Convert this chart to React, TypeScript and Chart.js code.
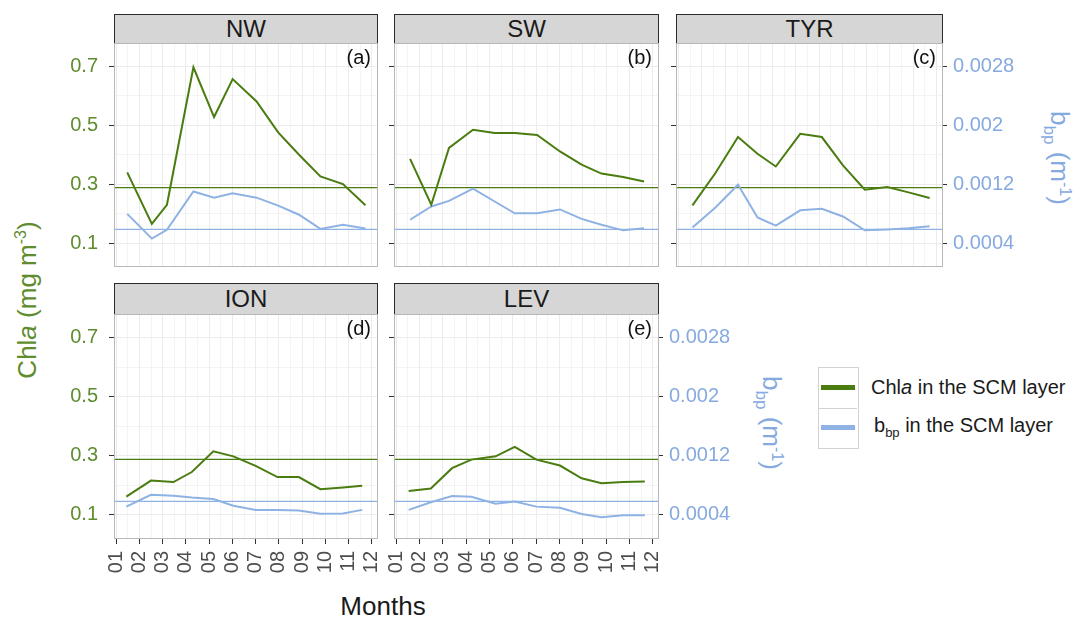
import React, { useEffect, useRef } from 'react';
import { Chart, registerables } from 'chart.js';

Chart.register(...registerables);

// ---------- data ----------
const MONTH_TICKS = [1, 2, 3, 4, 5, 6, 7, 8, 9, 10, 11, 12];
const MONTH_LABELS = ['01', '02', '03', '04', '05', '06', '07', '08', '09', '10', '11', '12'];
const MONTH_MINOR = [1.5, 2.5, 3.5, 4.5, 5.5, 6.5, 7.5, 8.5, 9.5, 10.5, 11.5];
const CHL_TICKS = [0.1, 0.3, 0.5, 0.7];
const CHL_LABELS = ['0.1', '0.3', '0.5', '0.7'];
const CHL_MINOR = [0.2, 0.4, 0.6];
const BBP_TICKS = [0.0004, 0.0012, 0.002, 0.0028];
const BBP_LABELS = ['0.0004', '0.0012', '0.002', '0.0028'];

const CHL_MEAN = 0.288;
const BBP_MEAN = 0.000584;

const NW_MONTHS = [1.47, 2.53, 3.18, 4.32, 5.21, 6.01, 7.04, 7.97, 8.87, 9.79, 10.76, 11.73];
const NW_CHL = [0.340, 0.165, 0.230, 0.697, 0.528, 0.657, 0.581, 0.476, 0.400, 0.326, 0.300, 0.228];
const NW_BBP = [0.000796, 0.00046, 0.00058, 0.0011, 0.001016, 0.001076, 0.001016, 0.000908, 0.000784, 0.000592, 0.000648, 0.000596];

const SW_MONTHS = [1.59, 2.50, 3.26, 4.29, 5.22, 6.08, 7.04, 8.02, 8.95, 9.80, 10.73, 11.63];
const SW_CHL = [0.386, 0.230, 0.423, 0.485, 0.474, 0.474, 0.467, 0.411, 0.366, 0.336, 0.324, 0.309];
const SW_BBP = [0.000716, 0.000896, 0.000972, 0.00114, 0.000964, 0.000804, 0.000804, 0.000856, 0.000728, 0.000648, 0.000572, 0.0006];

const TYR_MONTHS = [1.60, 2.58, 3.54, 4.37, 5.15, 6.19, 7.11, 8.01, 8.94, 9.90, 10.80, 11.70];
const TYR_CHL = [0.228, 0.338, 0.460, 0.403, 0.360, 0.471, 0.460, 0.364, 0.281, 0.290, 0.272, 0.253];
const TYR_BBP = [0.000612, 0.000884, 0.001192, 0.000748, 0.000636, 0.000844, 0.000864, 0.00076, 0.000572, 0.000584, 0.0006, 0.000628];

const ION_MONTHS = [1.43, 2.49, 3.46, 4.25, 5.18, 6.04, 7.00, 7.94, 8.86, 9.79, 10.76, 11.59];
const ION_CHL = [0.162, 0.216, 0.211, 0.245, 0.315, 0.298, 0.266, 0.228, 0.228, 0.187, 0.193, 0.199];
const ION_BBP = [0.000512, 0.000672, 0.00066, 0.000636, 0.000616, 0.000524, 0.000468, 0.000468, 0.00046, 0.000416, 0.00042, 0.000468];

const LEV_MONTHS = [1.53, 2.48, 3.39, 4.22, 5.26, 6.08, 7.01, 8.02, 8.95, 9.80, 10.73, 11.66];
const LEV_CHL = [0.181, 0.189, 0.258, 0.287, 0.298, 0.330, 0.287, 0.267, 0.224, 0.207, 0.211, 0.213];
const LEV_BBP = [0.000468, 0.000572, 0.000656, 0.000644, 0.000552, 0.00058, 0.000512, 0.000496, 0.000412, 0.000368, 0.000396, 0.000396];

// ---------- style ----------
const FONT = "'Liberation Sans', Arial, Helvetica, sans-serif";
const GREEN = '#4a7c10';
const GREEN_TEXT = '#5e8c2e';
const BLUE = '#8fb2e4';
const BLUE_TEXT = '#86aae0';
const GRID = '#ececec';
const X_MIN = 0.9;
const X_MAX = 12.27;
const Y_MIN = 0.0185;
const Y_MAX = 0.7795;
const BBP_PER_CHL = 0.004;

type PanelDef = {
  name: string;
  letter: string;
  months: number[];
  chl: number[];
  bbp: number[];
  left: number;
  top: number;
  width: number;
  height: number;
  stripTop: number;
  stripH: number;
  showLeft: boolean;
  showRight: boolean;
  showX: boolean;
};

const PANELS: PanelDef[] = [
  { name: 'NW', letter: '(a)', months: NW_MONTHS, chl: NW_CHL, bbp: NW_BBP, left: 114, top: 43, width: 264, height: 224, stripTop: 14, stripH: 30, showLeft: true, showRight: false, showX: false },
  { name: 'SW', letter: '(b)', months: SW_MONTHS, chl: SW_CHL, bbp: SW_BBP, left: 394, top: 43, width: 265, height: 224, stripTop: 14, stripH: 30, showLeft: false, showRight: false, showX: false },
  { name: 'TYR', letter: '(c)', months: TYR_MONTHS, chl: TYR_CHL, bbp: TYR_BBP, left: 676, top: 43, width: 267, height: 224, stripTop: 14, stripH: 30, showLeft: false, showRight: true, showX: false },
  { name: 'ION', letter: '(d)', months: ION_MONTHS, chl: ION_CHL, bbp: ION_BBP, left: 114, top: 314, width: 264, height: 225, stripTop: 283, stripH: 32, showLeft: true, showRight: false, showX: true },
  { name: 'LEV', letter: '(e)', months: LEV_MONTHS, chl: LEV_CHL, bbp: LEV_BBP, left: 394, top: 314, width: 265, height: 225, stripTop: 283, stripH: 32, showLeft: false, showRight: true, showX: true },
];

const L = 60;
const R = 90;
const T = 2;

function Panel({ p }: { p: PanelDef }) {
  const ref = useRef<HTMLCanvasElement | null>(null);
  const B = p.showX ? 50 : 2;
  const cw = L + p.width + R;
  const ch = T + p.height + B;

  useEffect(() => {
    if (!ref.current) return;
    const framePlugin = {
      id: 'frame',
      afterDatasetsDraw(chart: any) {
        const { ctx, chartArea } = chart;
        ctx.save();
        ctx.strokeStyle = '#b8b8b8';
        ctx.lineWidth = 1;
        ctx.strokeRect(chartArea.left + 0.5, chartArea.top + 0.5, chartArea.right - chartArea.left - 1, chartArea.bottom - chartArea.top - 1);
        ctx.fillStyle = '#111';
        ctx.font = `20px ${FONT}`;
        ctx.textAlign = 'right';
        ctx.textBaseline = 'middle';
        ctx.fillText(p.letter, chartArea.right - 7, chartArea.top + 15);
        ctx.restore();
      },
    };
    const isMajorX = (v: number) => MONTH_TICKS.indexOf(v) >= 0;
    const isMajorY = (v: number) => CHL_TICKS.indexOf(v) >= 0;
    const chart = new Chart(ref.current, {
      type: 'line',
      data: {
        datasets: [
          {
            label: 'chl',
            data: p.months.map((m, i) => ({ x: m, y: p.chl[i] })),
            borderColor: GREEN,
            borderWidth: 2,
            pointRadius: 0,
            tension: 0,
            yAxisID: 'y',
          },
          {
            label: 'bbp',
            data: p.months.map((m, i) => ({ x: m, y: p.bbp[i] })),
            borderColor: BLUE,
            borderWidth: 2,
            pointRadius: 0,
            tension: 0,
            yAxisID: 'y1',
          },
          {
            label: 'chlMean',
            data: [{ x: X_MIN, y: CHL_MEAN }, { x: X_MAX, y: CHL_MEAN }],
            borderColor: GREEN,
            borderWidth: 1.3,
            pointRadius: 0,
            yAxisID: 'y',
          },
          {
            label: 'bbpMean',
            data: [{ x: X_MIN, y: BBP_MEAN }, { x: X_MAX, y: BBP_MEAN }],
            borderColor: BLUE,
            borderWidth: 1.3,
            pointRadius: 0,
            yAxisID: 'y1',
          },
        ],
      },
      options: {
        animation: false,
        responsive: false,
        maintainAspectRatio: false,
        events: [],
        layout: { padding: { left: 0, top: T, right: p.showRight ? 0 : R, bottom: 0 } },
        plugins: { legend: { display: false }, tooltip: { enabled: false } },
        scales: {
          x: {
            type: 'linear',
            min: X_MIN,
            max: X_MAX,
            position: 'bottom',
            afterBuildTicks: (s: any) => {
              s.ticks = [...MONTH_TICKS, ...MONTH_MINOR].sort((a, b) => a - b).map((v) => ({ value: v }));
            },
            afterFit: (s: any) => {
              s.height = B;
              s.paddingLeft = 0;
              s.paddingRight = 0;
              s.paddingTop = 0;
              s.paddingBottom = 0;
            },
            border: { display: false },
            grid: {
              color: GRID,
              lineWidth: (c: any) => (c.tick && isMajorX(c.tick.value) ? 1 : 0.6),
              drawTicks: p.showX,
              tickLength: 5,
              tickWidth: 1,
              tickColor: (c: any) => (c.tick && isMajorX(c.tick.value) ? '#333333' : 'rgba(0,0,0,0)'),
            },
            ticks: {
              display: p.showX,
              autoSkip: false,
              minRotation: 90,
              maxRotation: 90,
              padding: 7,
              color: '#4d4d4d',
              font: { family: FONT, size: 20 },
              callback: (v: any) => {
                const i = MONTH_TICKS.indexOf(v);
                return i >= 0 ? MONTH_LABELS[i] : '';
              },
            },
          },
          y: {
            type: 'linear',
            min: Y_MIN,
            max: Y_MAX,
            position: 'left',
            afterBuildTicks: (s: any) => {
              s.ticks = [...CHL_TICKS, ...CHL_MINOR].sort((a, b) => a - b).map((v) => ({ value: v }));
            },
            afterFit: (s: any) => {
              s.width = L;
              s.paddingLeft = 0;
              s.paddingRight = 0;
              s.paddingTop = 0;
              s.paddingBottom = 0;
            },
            border: { display: false },
            grid: {
              color: GRID,
              lineWidth: (c: any) => (c.tick && isMajorY(c.tick.value) ? 1 : 0.6),
              drawTicks: true,
              tickLength: 5,
              tickWidth: 1,
              tickColor: (c: any) => (c.tick && isMajorY(c.tick.value) ? '#333333' : 'rgba(0,0,0,0)'),
            },
            ticks: {
              display: p.showLeft,
              padding: 11,
              color: GREEN_TEXT,
              font: { family: FONT, size: 20 },
              callback: (v: any) => {
                const i = CHL_TICKS.indexOf(v);
                return i >= 0 ? CHL_LABELS[i] : '';
              },
            },
          },
          y1: {
            type: 'linear',
            display: p.showRight,
            min: Y_MIN * BBP_PER_CHL,
            max: Y_MAX * BBP_PER_CHL,
            position: 'right',
            afterBuildTicks: (s: any) => {
              s.ticks = BBP_TICKS.map((v) => ({ value: v }));
            },
            afterFit: (s: any) => {
              s.width = p.showRight ? R : 0;
              s.paddingLeft = 0;
              s.paddingRight = 0;
              s.paddingTop = 0;
              s.paddingBottom = 0;
            },
            border: { display: false },
            grid: {
              drawOnChartArea: false,
              drawTicks: true,
              tickLength: 4,
              tickWidth: 1,
              tickColor: '#333333',
            },
            ticks: {
              padding: 6,
              color: BLUE_TEXT,
              font: { family: FONT, size: 20 },
              callback: (v: any) => {
                const i = BBP_TICKS.indexOf(v);
                return i >= 0 ? BBP_LABELS[i] : '';
              },
            },
          },
        },
      } as any,
      plugins: [framePlugin],
    });
    return () => chart.destroy();
  }, []);

  return (
    <>
      <div
        style={{
          position: 'absolute',
          left: p.left,
          top: p.stripTop,
          width: p.width,
          height: p.stripH,
          boxSizing: 'border-box',
          background: '#d6d6d6',
          border: '1.4px solid #2b2b2b',
          display: 'flex',
          alignItems: 'center',
          justifyContent: 'center',
          fontSize: 24,
          color: '#1a1a1a',
        }}
      >
        {p.name}
      </div>
      <canvas
        ref={ref}
        width={cw}
        height={ch}
        style={{ position: 'absolute', left: p.left - L, top: p.top - T, width: cw, height: ch }}
      />
    </>
  );
}

export default function App() {
  return (
    <div
      style={{
        position: 'absolute',
        left: 0,
        top: 0,
        width: 1073,
        height: 617,
        background: '#ffffff',
        fontFamily: FONT,
        overflow: 'hidden',
      }}
    >
      {PANELS.map((p) => (
        <Panel key={p.name} p={p} />
      ))}
      {/* left axis title */}
      <div
        style={{
          position: 'absolute',
          left: 27,
          top: 300,
          transform: 'translate(-50%, -50%) rotate(-90deg)',
          whiteSpace: 'nowrap',
          color: GREEN_TEXT,
          fontSize: 26,
        }}
      >
        Chl<i>a</i> (mg m<sup style={{ fontSize: 16 }}>-3</sup>)
      </div>
      {/* right axis titles */}
      <div
        style={{
          position: 'absolute',
          left: 1057,
          top: 158,
          transform: 'translate(-50%, -50%) rotate(90deg)',
          whiteSpace: 'nowrap',
          color: BLUE_TEXT,
          fontSize: 26,
        }}
      >
        b<sub style={{ fontSize: 17 }}>bp</sub> (m<sup style={{ fontSize: 16 }}>-1</sup>)
      </div>
      <div
        style={{
          position: 'absolute',
          left: 769,
          top: 423,
          transform: 'translate(-50%, -50%) rotate(90deg)',
          whiteSpace: 'nowrap',
          color: BLUE_TEXT,
          fontSize: 26,
        }}
      >
        b<sub style={{ fontSize: 17 }}>bp</sub> (m<sup style={{ fontSize: 16 }}>-1</sup>)
      </div>
      {/* x axis title */}
      <div
        style={{
          position: 'absolute',
          left: 383,
          top: 606,
          transform: 'translate(-50%, -50%)',
          whiteSpace: 'nowrap',
          color: '#1a1a1a',
          fontSize: 26,
        }}
      >
        Months
      </div>
      {/* legend */}
      <div style={{ position: 'absolute', left: 818, top: 367, width: 41, height: 82, boxSizing: 'border-box', border: '1.5px solid #d2d2d2' }}>
        <div style={{ position: 'absolute', left: 0, top: 39.5, width: 38, height: 1.5, background: '#d2d2d2' }} />
        <div style={{ position: 'absolute', left: 2, top: 17, width: 34, height: 5, background: GREEN }} />
        <div style={{ position: 'absolute', left: 2, top: 57, width: 34, height: 5, background: BLUE }} />
      </div>
      <div style={{ position: 'absolute', left: 871, top: 387, transform: 'translateY(-50%)', whiteSpace: 'nowrap', fontSize: 20, color: '#1a1a1a' }}>
        Chl<i>a</i> in the SCM layer
      </div>
      <div style={{ position: 'absolute', left: 874, top: 427, transform: 'translateY(-50%)', whiteSpace: 'nowrap', fontSize: 20, color: '#1a1a1a' }}>
        b<sub style={{ fontSize: 13 }}>bp</sub> in the SCM layer
      </div>
    </div>
  );
}
